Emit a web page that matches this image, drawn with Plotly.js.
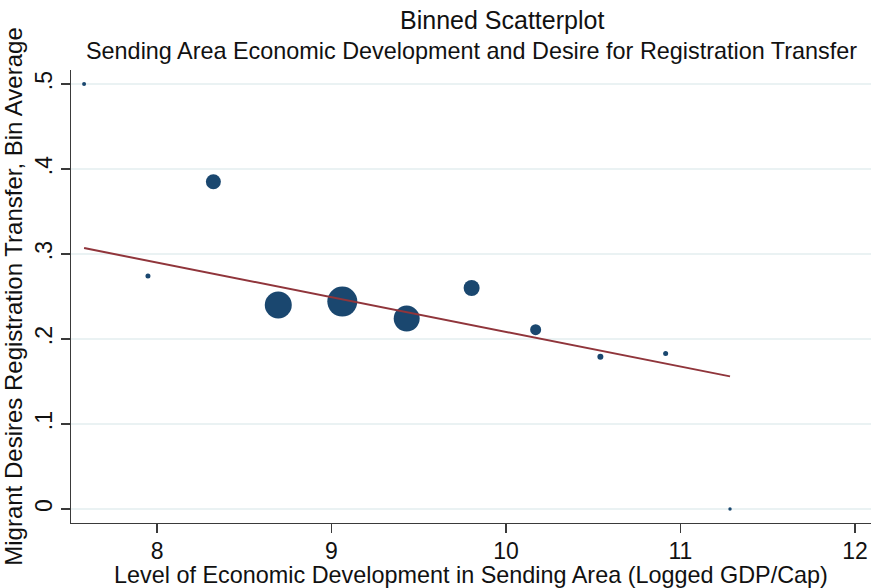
<!DOCTYPE html>
<html>
<head>
<meta charset="utf-8">
<script src="https://cdn.plot.ly/plotly-3.0.1.min.js"></script>
<style>html,body{margin:0;padding:0;background:#fff;}#chart{width:872px;height:588px;}</style>
</head>
<body>
<div id="chart"></div>
<script>
// Bin averages (x = logged GDP/cap bin mean, y = share desiring registration transfer)
const binX = [7.582, 7.948, 8.323, 8.695, 9.062, 9.431, 9.803, 10.170, 10.541, 10.915, 11.284];
const binY = [0.500, 0.274, 0.385, 0.240, 0.244, 0.224, 0.260, 0.211, 0.179, 0.183, 0.000];
// relative bin weights (marker area)
const binWeight = [16, 25, 225, 729, 900, 676, 256, 121, 36, 25, 12];
// linear fit line
const fitX = [7.582, 11.284];
const fitY = [0.307, 0.156];
// tick labels
const xTickVals = [8, 9, 10, 11, 12];
const xTickText = ["8", "9", "10", "11", "12"];
const yTickVals = [0, 0.1, 0.2, 0.3, 0.4, 0.5];
const yTickText = ["0", ".1", ".2", ".3", ".4", ".5"];

const FONT = "Liberation Sans, Arial, sans-serif";
const navy = "#1a476f", maroon = "#90353b", gridc = "#eaf2f3", axc = "#3a3a3a";
const TXT = "#111";

const traces = [
  {
    x: binX, y: binY, type: "scatter", mode: "markers",
    marker: { color: navy, opacity: 1, size: binWeight.map(w => Math.sqrt(w)), line: { width: 0 } },
    hoverinfo: "x+y", showlegend: false
  },
  {
    x: fitX, y: fitY, type: "scatter", mode: "lines",
    line: { color: maroon, width: 2 }, showlegend: false
  }
];

const layout = {
  width: 872, height: 588,
  margin: { l: 71, r: 1, t: 70, b: 65 },
  paper_bgcolor: "#fff", plot_bgcolor: "#fff",
  font: { family: FONT, color: TXT, size: 23 },
  title: {
    text: "Binned Scatterplot",
    font: { family: FONT, size: 25, color: TXT },
    x: 470 / 872, xref: "paper", xanchor: "center",
    y: 1 - 11 / 588, yref: "container", yanchor: "top"
  },
  annotations: [{
    text: "Sending Area Economic Development and Desire for Registration Transfer",
    xref: "paper", yref: "paper", x: 0.5, y: 1.0, yshift: 4,
    xanchor: "center", yanchor: "bottom", showarrow: false,
    font: { family: FONT, size: 23.4, color: TXT }
  }],
  xaxis: {
    range: [7.507, 12.092],
    tickvals: xTickVals, ticktext: xTickText,
    ticks: "outside", ticklen: 9, tickwidth: 1.3, tickcolor: axc,
    ticklabelstandoff: -2,
    showline: true, linecolor: axc, linewidth: 1.3,
    showgrid: false, zeroline: false,
    tickfont: { family: FONT, size: 23, color: TXT },
    title: { text: "Level of Economic Development in Sending Area (Logged GDP/Cap)", font: { family: FONT, size: 23.4, color: TXT }, standoff: 0 }
  },
  yaxis: {
    range: [-0.0165, 0.5165],
    tickvals: yTickVals, ticktext: yTickText, tickangle: -90,
    ticks: "outside", ticklen: 9, tickwidth: 1.3, tickcolor: axc,
    showline: true, linecolor: axc, linewidth: 1.3,
    showgrid: true, gridcolor: gridc, gridwidth: 1.3, zeroline: false,
    tickfont: { family: FONT, size: 23, color: TXT },
    title: { text: "Migrant Desires Registration Transfer, Bin Average", font: { family: FONT, size: 24, color: TXT }, standoff: 2 }
  }
};

Plotly.newPlot("chart", traces, layout, { displayModeBar: false, staticPlot: true });
</script>
</body>
</html>
